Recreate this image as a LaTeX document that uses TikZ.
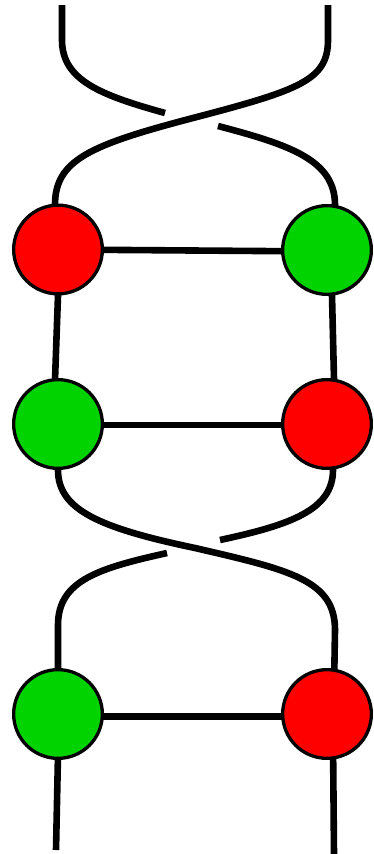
\documentclass[tikz,border=0pt]{standalone}
\usetikzlibrary{backgrounds}
\definecolor{nodered}{RGB}{255,0,0}
\definecolor{nodegreen}{RGB}{0,211,0}
\begin{document}
\begin{tikzpicture}[x=1pt,y=-1pt,
  vertex/.style={circle,draw=black,line width=3.3pt,minimum size=88.7pt,inner sep=0pt},
  strand/.style={line width=6.6pt,draw=black}]
\useasboundingbox (0,0) rectangle (373,854);
% vertices
\node[vertex,fill=nodered]   (r1) at (58,249.5) {};
\node[vertex,fill=nodegreen] (g1) at (327,250) {};
\node[vertex,fill=nodegreen] (g2) at (58,424) {};
\node[vertex,fill=nodered]   (r2) at (327,424) {};
\node[vertex,fill=nodegreen] (g3) at (58,714) {};
\node[vertex,fill=nodered]   (r3) at (327,714) {};
% free ends
\coordinate (tl) at (62,5);
\coordinate (tr) at (328,5);
\coordinate (bl) at (56,850);
\coordinate (br) at (334,854);
\begin{pgfonlayer}{background}
% top crossing: over strand
\draw[strand] (tr) -- (328,40) .. controls (328,80) and (300,90) .. (193,118)
   .. controls (90,145) and (55,160) .. (55,205) -- (56,225);
% top crossing: under strand (broken)
\draw[strand] (tl) -- (62,40) .. controls (62,80) and (100,95) .. (165,113);
\draw[strand] (218,126) .. controls (290,145) and (335,160) .. (335,205) -- (334,225);
% rungs
\draw[strand] (r1.center) -- ([yshift=-1.5pt]g1.center);
\draw[strand] ([yshift=-1pt]g2.center) -- ([yshift=-1pt]r2.center);
\draw[strand] ([yshift=-2.5pt]g3.center) -- ([yshift=-2.5pt]r3.center);
% middle verticals
\draw[strand] (58.9,270) -- (54.3,400);
\draw[strand] (331.4,270) -- (334.5,400);
% lower crossing: over strand
\draw[strand] (58,445) -- (58,470) .. controls (58,510) and (100,528) .. (195,548)
   .. controls (290,570) and (335,580) .. (335,630) -- (334,690);
% lower crossing: under strand (broken)
\draw[strand] (333,445) -- (333,470) .. controls (333,510) and (290,525) .. (220,540);
\draw[strand] (167,553) .. controls (100,568) and (58,580) .. (58,625) -- (58,690);
% bottom legs
\draw[strand] (58.3,740) -- (bl);
\draw[strand] (333,740) -- (br);
\end{pgfonlayer}
\end{tikzpicture}
\end{document}
